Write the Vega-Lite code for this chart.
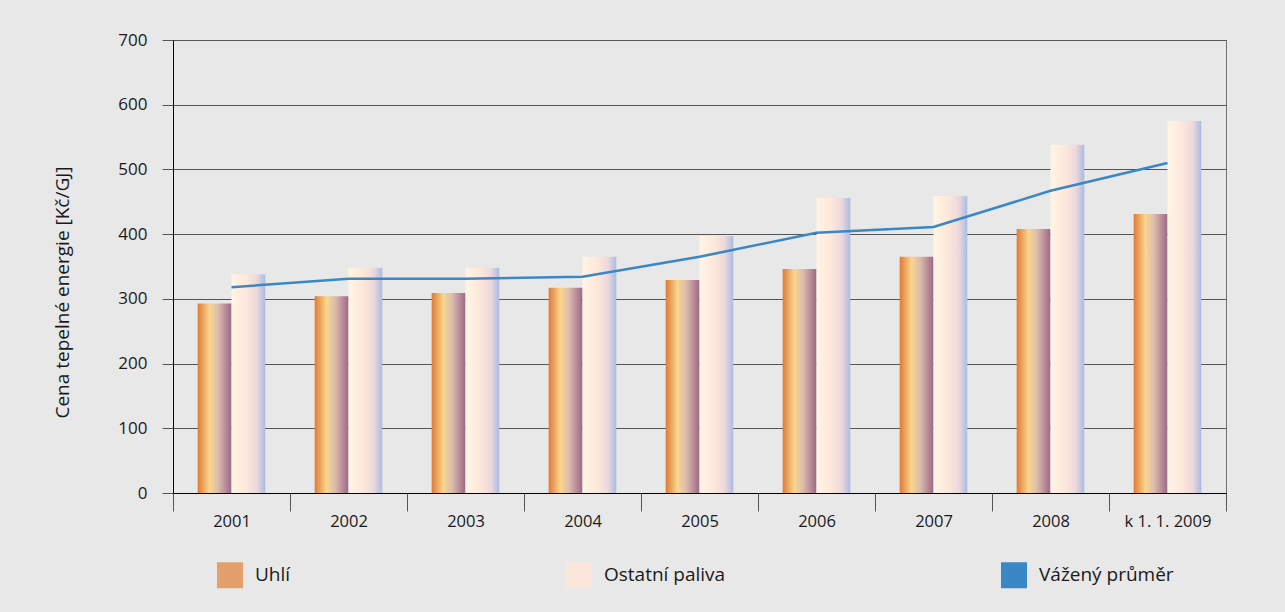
{
  "$schema": "https://vega.github.io/schema/vega-lite/v6.json",
  "autosize": {"type": "none"},
  "width": 1053,
  "height": 453,
  "padding": {"left": 173, "top": 40, "right": 59, "bottom": 119},
  "background": "#e8e8e8",
  "config": {
    "font": "Open Sans",
    "view": {"stroke": "#707070", "strokeWidth": 1},
    "axisY": {"titleFontSize": 19, "titleFontWeight": "normal", "titleColor": "#1a1a1a", "titlePadding": 45, "titleY": 252, "labelFontSize": 17, "labelColor": "#1a1a1a", "labelPadding": 15, "tickSize": 11, "tickColor": "#555", "gridColor": "#555", "domainColor": "#000"},
    "axisX": {"labelFontSize": 16.5, "labelColor": "#1a1a1a", "tickSize": 18, "tickColor": "#555", "domainColor": "#000", "labelPadding": 2, "grid": false, "labelAngle": 0, "tickBand": "extent"}
  },
  "datasets": {
    "bars": [
      {"year": "2001", "series": "Uhlí", "value": 293},
      {"year": "2001", "series": "Ostatní paliva", "value": 338},
      {"year": "2002", "series": "Uhlí", "value": 304},
      {"year": "2002", "series": "Ostatní paliva", "value": 348},
      {"year": "2003", "series": "Uhlí", "value": 309},
      {"year": "2003", "series": "Ostatní paliva", "value": 348},
      {"year": "2004", "series": "Uhlí", "value": 317},
      {"year": "2004", "series": "Ostatní paliva", "value": 365},
      {"year": "2005", "series": "Uhlí", "value": 329},
      {"year": "2005", "series": "Ostatní paliva", "value": 397},
      {"year": "2006", "series": "Uhlí", "value": 346},
      {"year": "2006", "series": "Ostatní paliva", "value": 456},
      {"year": "2007", "series": "Uhlí", "value": 365},
      {"year": "2007", "series": "Ostatní paliva", "value": 459},
      {"year": "2008", "series": "Uhlí", "value": 408},
      {"year": "2008", "series": "Ostatní paliva", "value": 538},
      {"year": "k 1. 1. 2009", "series": "Uhlí", "value": 431},
      {"year": "k 1. 1. 2009", "series": "Ostatní paliva", "value": 575}
    ],
    "avg": [
      {"year": "2001", "value": 318},
      {"year": "2002", "value": 331},
      {"year": "2003", "value": 331},
      {"year": "2004", "value": 334},
      {"year": "2005", "value": 365},
      {"year": "2006", "value": 402},
      {"year": "2007", "value": 411},
      {"year": "2008", "value": 467},
      {"year": "k 1. 1. 2009", "value": 510}
    ]
  },
  "layer": [
    {
      "data": {"name": "bars"},
      "mark": {"type": "bar", "strokeWidth": 0},
      "encoding": {
        "x": {
          "field": "year", "type": "nominal", "sort": null,
          "scale": {"paddingInner": 0, "paddingOuter": 0},
          "axis": {"title": null}
        },
        "xOffset": {
          "field": "series", "type": "nominal",
          "scale": {"domain": ["Uhlí", "Ostatní paliva"], "paddingInner": 0, "paddingOuter": 0.73}
        },
        "y": {
          "field": "value", "type": "quantitative",
          "scale": {"domain": [0, 700]},
          "axis": {"title": "Cena tepelné energie [Kč/GJ]", "values": [0, 100, 200, 300, 400, 500, 600, 700]}
        },
        "fill": {
          "condition": {
            "test": "datum.series === 'Uhlí'",
            "value": {"gradient": "linear", "x1": 0, "x2": 1, "y1": 0, "y2": 0, "stops": [{"offset": 0, "color": "#e07a34"}, {"offset": 0.35, "color": "#f9d68e"}, {"offset": 0.6, "color": "#dcbcae"}, {"offset": 1, "color": "#9c6888"}]}
          },
          "value": {"gradient": "linear", "x1": 0, "x2": 1, "y1": 0, "y2": 0, "stops": [{"offset": 0, "color": "#fff5e4"}, {"offset": 0.45, "color": "#fde7da"}, {"offset": 0.75, "color": "#ecd8dc"}, {"offset": 1, "color": "#a9bce2"}]}
        },
        "stroke": {
          "field": "series", "type": "nominal",
          "scale": {"domain": ["Uhlí", "Ostatní paliva", "Vážený průměr"], "range": ["#e3a06c", "#fbe6dc", "#3a87c5"]},
          "legend": {
            "orient": "none", "legendX": 44, "legendY": 522, "direction": "horizontal", "title": null,
            "symbolType": "square", "symbolSize": 169, "symbolStrokeWidth": 13, "symbolOpacity": 1, "labelFontSize": 19, "labelColor": "#1a1a1a", "labelOffset": 12, "columnPadding": 255, "labelLimit": 300
          }
        }
      }
    },
    {
      "data": {"name": "avg"},
      "mark": {"type": "line", "color": "#3a87c5", "strokeWidth": 2.5},
      "encoding": {
        "x": {"field": "year", "type": "nominal", "sort": null},
        "y": {"field": "value", "type": "quantitative"}
      }
    }
  ]
}
